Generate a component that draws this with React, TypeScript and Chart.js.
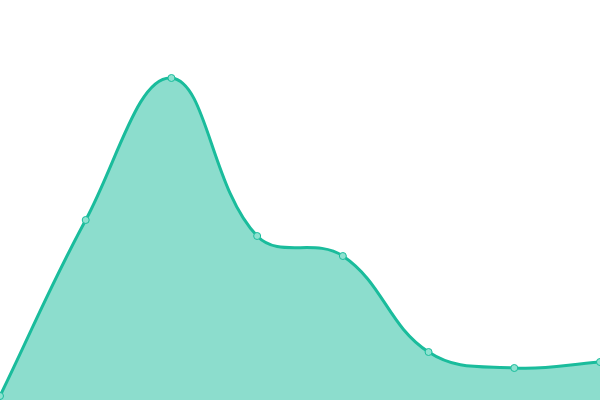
import { useEffect, useRef } from 'react';
import Chart from 'chart.js/auto';

const labels = ['1', '2', '3', '4', '5', '6', '7', '8'];
const values = [1, 45, 80.5, 41, 36, 12, 8, 9.5];

export default function App() {
  const chartRef = useRef<HTMLCanvasElement>(null);

  useEffect(() => {
    document.body.style.margin = '0';
    if (!chartRef.current) return;
    const ctx = chartRef.current.getContext('2d');
    if (!ctx) return;

    const chart = new Chart(ctx, {
      type: 'line',
      data: {
        labels,
        datasets: [
          {
            data: values,
            fill: true,
            tension: 0.4,
            borderColor: '#1abc9c',
            backgroundColor: 'rgba(26, 188, 156, 0.5)',
            borderWidth: 3,
            pointRadius: 3.5,
            pointBorderWidth: 1,
            pointBackgroundColor: '#8de2d0',
            pointBorderColor: '#1abc9c',
          },
        ],
      },
      options: {
        responsive: true,
        maintainAspectRatio: false,
        animation: false,
        layout: { padding: 0, autoPadding: false },
        plugins: { legend: { display: false }, tooltip: { enabled: false } },
        scales: {
          x: { display: false, offset: false },
          y: { display: false, min: 0, max: 100 },
        },
      },
    });

    return () => chart.destroy();
  }, []);

  return (
    <div style={{ width: 600, height: 400 }}>
      <canvas ref={chartRef} />
    </div>
  );
}
